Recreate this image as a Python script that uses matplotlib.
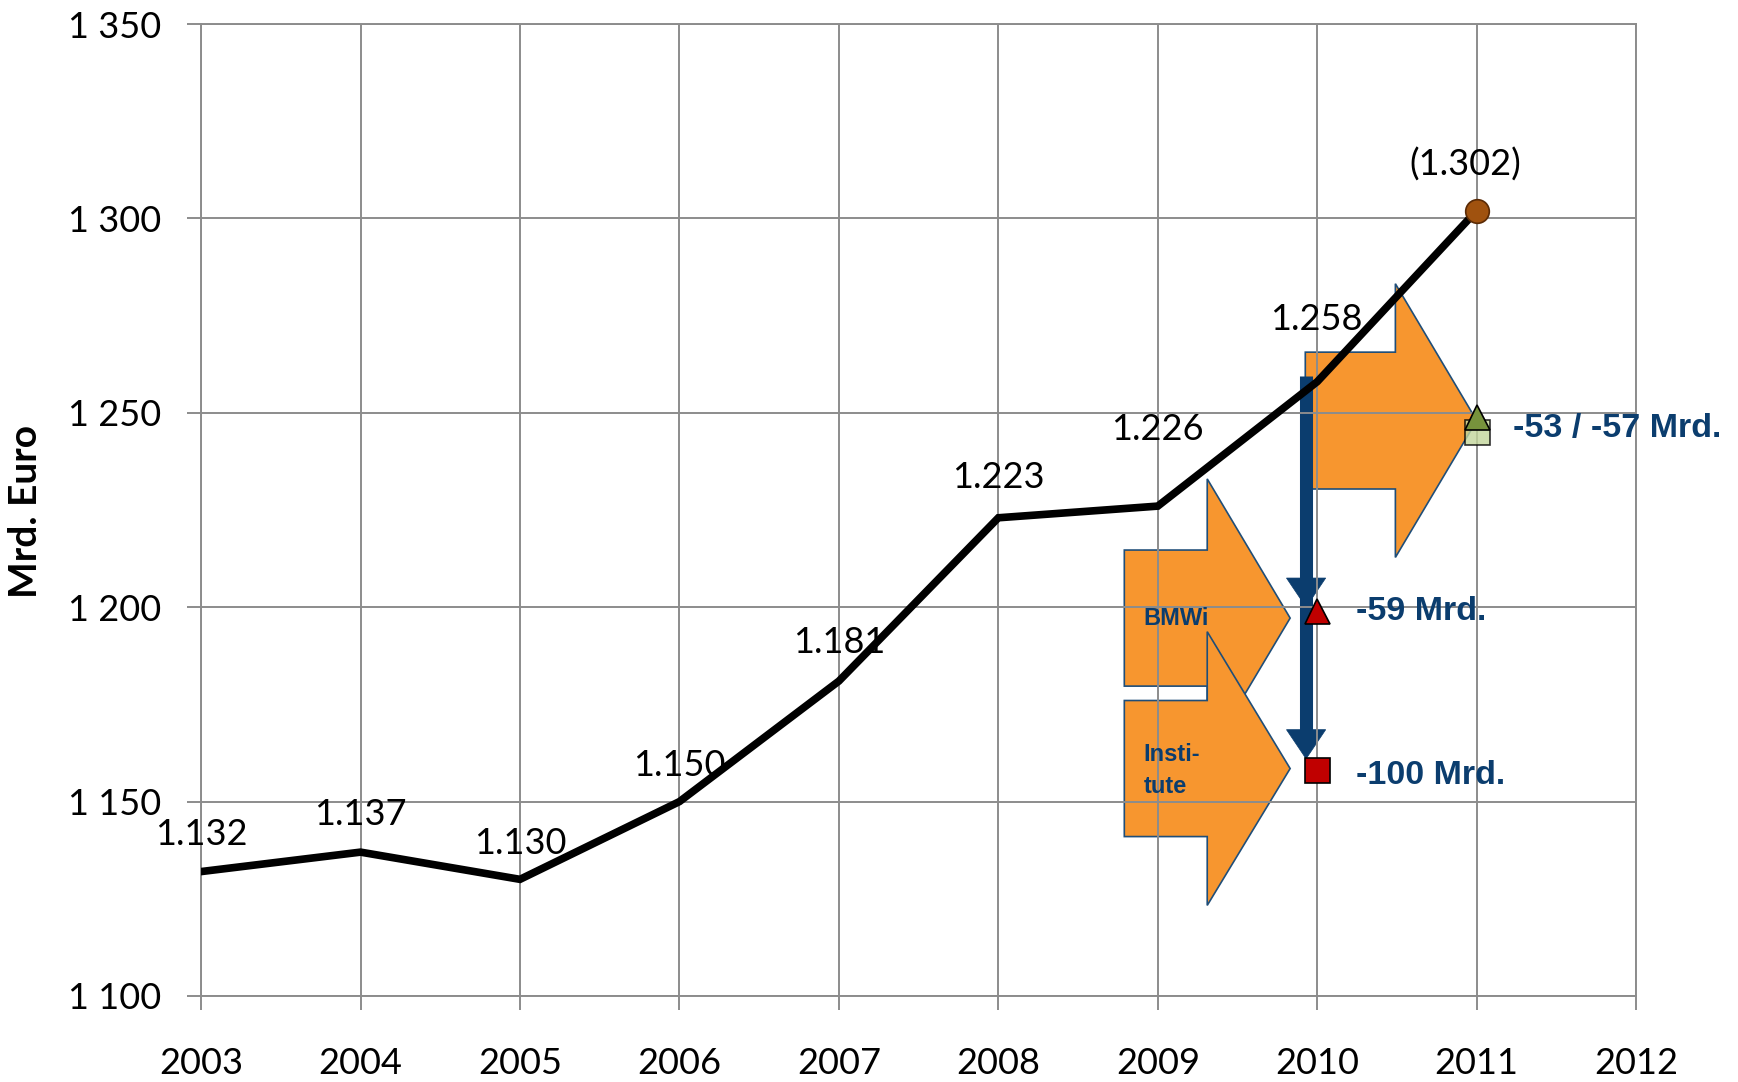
"""
Gesamtwirtschaftliche Entwicklung 2003-2011 mit Abschlaegen (BMWi / Institute)
"""

import matplotlib.pyplot as plt
from matplotlib.patches import Polygon

# Daten
years = [2003, 2004, 2005, 2006, 2007, 2008, 2009, 2010, 2011]
values = [1132, 1137, 1130, 1150, 1181, 1223, 1226, 1258, 1302]
label_texts = ['1.132', '1.137', '1.130', '1.150', '1.181', '1.223', '1.226', '1.258', '(1.302)']
xticks = [2003, 2004, 2005, 2006, 2007, 2008, 2009, 2010, 2011, 2012]
yticks = [1100, 1150, 1200, 1250, 1300, 1350]
ytick_labels = ['1 100', '1 150', '1 200', '1 250', '1 300', '1 350']

# Abschlaege
cut_year = 2010
cut_bmwi = 1199      # 1258 - 59
cut_institute = 1158  # 1258 - 100
cut_2011_a = 1249    # 1302 - 53
cut_2011_b = 1245    # 1302 - 57

# Beschriftungsversatz der Datenwerte (Punkte)
label_offsets = [(0, 27), (0, 27), (0, 26), (0, 26), (0, 28), (0, 29), (0, 55), (-1, 45), (-8, 33)]

ORANGE = '#F7962F'
EDGE = '#1F4E79'
BLUE = '#0B3D6E'
GRID = '#8C8C8C'
NARROW = ['Liberation Sans Narrow', 'Liberation Sans', 'DejaVu Sans']


def block_arrow(ax, x0, xh, xt, ymid, body_h, head_h):
    pts = [(x0, ymid - body_h), (x0, ymid + body_h), (xh, ymid + body_h),
           (xh, ymid + head_h), (xt, ymid), (xh, ymid - head_h), (xh, ymid - body_h)]
    ax.add_patch(Polygon(pts, closed=True, facecolor=ORANGE, edgecolor=EDGE,
                         linewidth=1.2, zorder=1))


def arrow_head(ax, x, ytip, length, half_w):
    pts = [(x - half_w, ytip + length), (x + half_w, ytip + length), (x, ytip)]
    ax.add_patch(Polygon(pts, closed=True, facecolor=BLUE, edgecolor=BLUE,
                         linewidth=0.5, zorder=2))


plt.rcParams['font.family'] = ['Lato', 'DejaVu Sans']

fig = plt.figure(figsize=(17.38, 10.82), dpi=100)
ax = fig.add_axes([0.1157, 0.0795, 0.8257, 0.8983])

ax.set_xlim(2003, 2012)
ax.set_ylim(1100, 1350)
ax.set_xticks(xticks)
ax.set_xticklabels([str(x) for x in xticks])
ax.set_yticks(yticks)
ax.set_yticklabels(ytick_labels)
ax.set_axisbelow(False)
ax.grid(True, color=GRID, linewidth=1.4)
for s in ax.spines.values():
    s.set_color(GRID)
    s.set_linewidth(1.4)
ax.tick_params(axis='both', direction='out', length=10, width=1.4, color=GRID,
               labelsize=26)
ax.tick_params(axis='y', pad=19)
ax.tick_params(axis='x', pad=27)

ax.set_ylabel('Mrd. Euro', fontsize=28, fontweight='bold')
ax.yaxis.set_label_coords(-0.110, 0.498)

# orange Blockpfeile
block_arrow(ax, 2009.925, 2010.49, 2011.0, 1248, 17.6, 35.2)
block_arrow(ax, 2008.79, 2009.31, 2009.83, 1197.2, 17.5, 35.8)
block_arrow(ax, 2008.79, 2009.31, 2009.83, 1158.5, 17.5, 35.2)

ax.text(2008.91, 1197.2, 'BMWi', family=NARROW, fontsize=17, fontweight='bold',
        color=BLUE, va='center', ha='left', zorder=3)
ax.text(2008.91, 1158.0, 'Insti-\ntute', family=NARROW, fontsize=17, fontweight='bold',
        color=BLUE, va='center', ha='left', linespacing=1.45, zorder=3)

# blauer Pfeil
xb = 2009.93
ax.plot([xb, xb], [values[7] + 1.5, cut_institute + 8], color=BLUE, linewidth=9.4,
        solid_capstyle='butt', zorder=2)
arrow_head(ax, xb, cut_bmwi + 1, 7.5, 0.123)
arrow_head(ax, xb, cut_institute + 3, 7.5, 0.123)

# Linie
ax.plot(years, values, color='black', linewidth=5.5, zorder=4, solid_joinstyle='miter')
ax.plot(years[-1], values[-1], 'o', markersize=17, markerfacecolor='#A0520F',
        markeredgecolor='#5A2A05', markeredgewidth=1.2, zorder=5)

for x, y, t, off in zip(years, values, label_texts, label_offsets):
    ax.annotate(t, (x, y), xytext=off, textcoords='offset points', ha='center',
                va='center', fontsize=26, zorder=6)

# Marker Abschlaege
ax.plot(2011, cut_2011_b, 's', markersize=18, markerfacecolor='#C3D69B', alpha=0.8,
        markeredgecolor='black', markeredgewidth=1.2, zorder=5)
ax.plot(2011, cut_2011_a, '^', markersize=18, markerfacecolor='#77933C',
        markeredgecolor='black', markeredgewidth=1.2, zorder=6)
ax.plot(cut_year, cut_bmwi, '^', markersize=18, markerfacecolor='#C00000',
        markeredgecolor='black', markeredgewidth=1.2, zorder=5)
ax.plot(cut_year, cut_institute, 's', markersize=18, markerfacecolor='#C00000',
        markeredgecolor='black', markeredgewidth=1.2, zorder=5)

ax.text(2011.227, 1246, '-53 / -57 Mrd.', family=NARROW, fontsize=24.5, fontweight='bold',
        color=BLUE, va='center', ha='left', zorder=6, clip_on=False)
ax.text(2010.24, 1198.9, '-59 Mrd.', family=NARROW, fontsize=24.5, fontweight='bold',
        color=BLUE, va='center', ha='left', zorder=6)
ax.text(2010.24, 1156.8, '-100 Mrd.', family=NARROW, fontsize=24.5, fontweight='bold',
        color=BLUE, va='center', ha='left', zorder=6)

plt.savefig('out.png', dpi=100)
plt.close()
